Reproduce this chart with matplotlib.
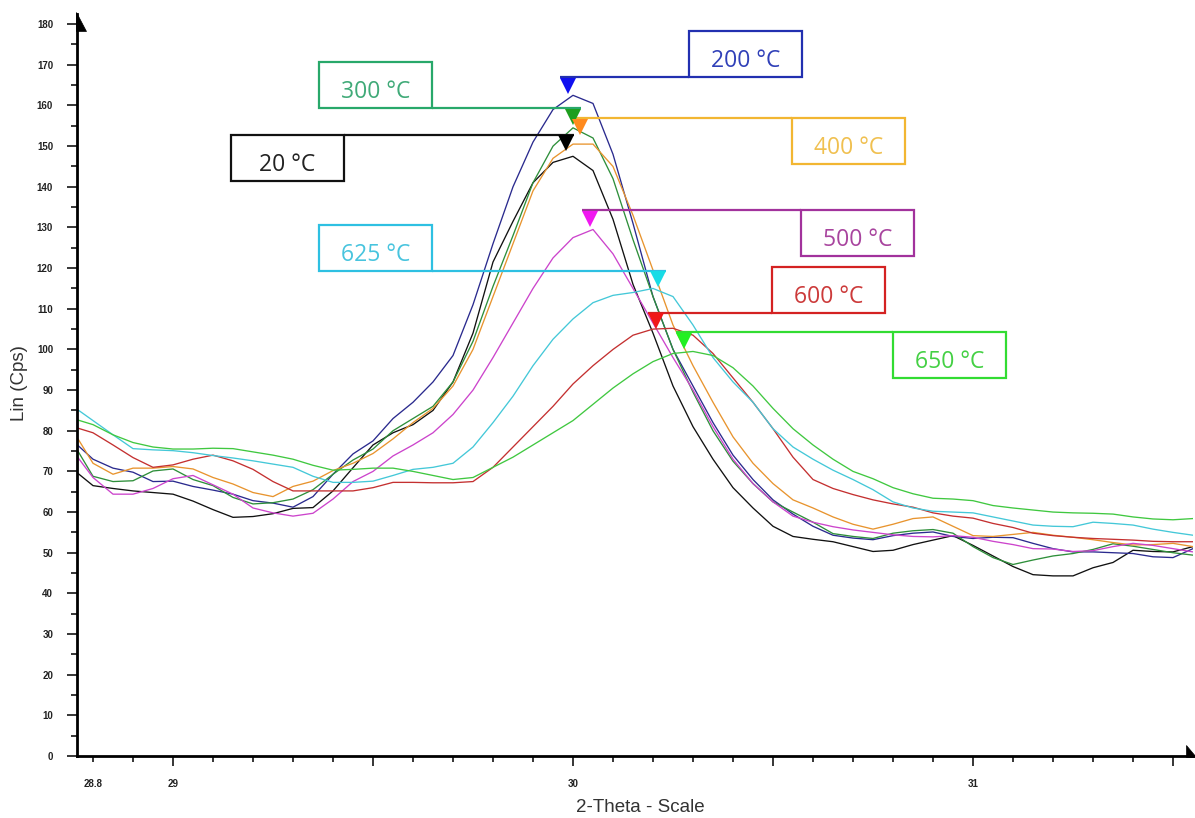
import numpy as np
import matplotlib
matplotlib.use("Agg")
import matplotlib.pyplot as plt
from matplotlib.patches import Rectangle, Polygon
from matplotlib.ticker import MultipleLocator, FixedLocator, FuncFormatter
from matplotlib.transforms import Affine2D, ScaledTranslation

# ---------------------------------------------------------------------------
# Scan data: 2-theta step scan (deg) and intensity (counts per second)
# ---------------------------------------------------------------------------
two_theta = np.round(np.arange(28.75, 31.5501, 0.05), 2)

cps_20 = [70.5, 66.5, 65.8, 65.2, 64.8, 64.4, 62.7, 60.6, 58.7, 58.9, 59.6, 60.9, 61.1, 65.2, 70.9, 76.5, 79.5,
          81.5, 85.0, 92.0, 104.0, 121.5, 131.5, 141.0, 146.0, 147.5, 144.0, 132.0, 116.0, 104.0, 91.0, 81.0, 73.0,
          66.0, 61.0, 56.5, 54.0,
          53.3, 52.7, 51.5, 50.3, 50.6, 52.0, 53.1, 54.2, 51.8, 49.2, 46.6, 44.6, 44.3, 44.3, 46.3, 47.6, 50.6, 50.3,
          50.2, 51.5]
cps_200 = [77.5, 73.0, 70.8, 69.8, 67.5, 67.6, 66.3, 65.4, 64.4, 62.8, 62.2, 61.2, 63.8, 69.3, 74.3, 77.5, 83.0,
           87.0, 92.0, 98.5, 111.0, 126.0, 140.0, 151.0, 159.0, 162.5, 160.5, 148.0, 131.0, 113.0, 100.0, 91.0, 82.0,
           74.0, 68.0, 63.0, 59.5,
           56.5, 54.3, 53.6, 53.2, 54.2, 54.8, 55.1, 54.0, 53.5, 53.8, 53.7, 52.3, 51.0, 50.2, 50.2, 50.0, 49.8, 49.0,
           48.8, 51.0]
cps_300 = [77.0, 68.8, 67.5, 67.7, 70.1, 70.6, 68.0, 66.5, 63.6, 62.0, 62.3, 63.2, 65.5, 69.3, 72.8, 75.5, 80.0,
           83.0, 86.0, 92.0, 102.0, 115.5, 128.0, 141.0, 150.0, 154.5, 152.0, 142.0, 127.0, 113.0, 100.0, 89.5, 80.0,
           72.5, 67.0, 62.5, 60.0,
           57.5, 54.7, 54.0, 53.5, 54.8, 55.4, 55.7, 54.8, 51.5, 48.8, 47.1, 48.2, 49.2, 49.8, 50.8, 52.2, 51.6, 50.8,
           50.0, 49.4]
cps_400 = [80.0, 72.0, 69.3, 70.8, 70.8, 71.2, 70.6, 68.5, 66.9, 64.8, 63.8, 66.3, 67.6, 70.2, 72.0, 74.4, 78.0,
           82.0, 85.5, 91.0, 100.0, 113.0, 126.0, 139.0, 147.0, 150.5, 150.5, 145.0, 133.0, 119.5, 106.0, 96.0, 87.0,
           78.5, 72.0, 67.0, 63.0,
           61.0, 58.8, 57.0, 55.8, 57.0, 58.4, 58.8, 56.5, 54.2, 54.0, 54.5, 55.0, 54.3, 53.8, 53.2, 52.5, 51.9, 52.0,
           52.3, 51.5]
cps_500 = [75.0, 68.5, 64.4, 64.4, 65.8, 68.2, 69.0, 66.7, 64.4, 61.0, 59.8, 59.0, 59.7, 63.2, 67.5, 70.0, 73.8,
           76.5, 79.5, 84.0, 90.0, 98.0, 106.5, 115.0, 122.5, 127.5, 129.5, 123.5, 115.0, 106.5, 98.0, 90.0, 81.0,
           73.0, 67.0, 62.5, 59.0,
           57.5, 56.4, 55.6, 55.0, 54.4, 54.0, 53.9, 54.2, 53.8, 52.8, 52.0, 51.0, 50.9, 50.3, 50.5, 51.5, 52.3, 51.8,
           51.0, 50.2]
cps_600 = [81.0, 79.5, 76.5, 73.4, 71.0, 71.6, 73.0, 74.0, 72.6, 70.5, 67.5, 65.2, 65.2, 65.2, 65.2, 66.0, 67.3,
           67.3, 67.2, 67.2, 67.5, 71.0, 76.0, 81.0, 86.0, 91.5, 96.0, 100.0, 103.5, 105.0, 105.2, 103.5, 99.0,
           93.0, 87.0, 80.5, 73.5,
           68.0, 65.8, 64.3, 63.0, 62.0, 61.2, 59.8, 59.0, 58.5, 57.2, 56.2, 54.8, 54.2, 53.8, 53.5, 53.3, 53.1, 52.8,
           52.7, 52.7]
cps_625 = [86.0, 82.5, 79.0, 75.6, 75.3, 75.1, 74.6, 73.9, 73.3, 72.6, 71.8, 71.0, 68.8, 67.3, 67.3, 67.6, 69.0,
           70.5, 71.0, 72.0, 76.0, 82.0, 88.5, 96.0, 102.5, 107.5, 111.5, 113.3, 114.0, 115.0, 113.0, 106.0, 98.0,
           92.0, 87.0, 80.5, 76.0,
           73.0, 70.3, 68.0, 65.5, 62.5, 61.0, 60.2, 60.0, 59.8, 58.8, 57.8, 56.8, 56.5, 56.4, 57.5, 57.2, 56.8, 55.8,
           55.0, 54.3]
cps_650 = [83.0, 81.5, 79.0, 77.1, 76.0, 75.5, 75.5, 75.7, 75.6, 74.8, 74.0, 73.0, 71.5, 70.3, 70.5, 70.8, 70.8,
           70.0, 69.0, 68.0, 68.5, 71.0, 73.5, 76.5, 79.5, 82.5, 86.5, 90.5, 94.0, 97.0, 99.0, 99.5, 98.5,
           95.5, 91.0, 85.5, 80.5,
           76.5, 73.0, 70.0, 68.2, 66.0, 64.5, 63.4, 63.2, 62.8, 61.6, 61.0, 60.5, 60.0, 59.8, 59.7, 59.5, 58.8, 58.3,
           58.1, 58.4]

series_labels = ["20 °C", "200 °C", "300 °C", "400 °C", "500 °C", "600 °C", "625 °C", "650 °C"]
series_cps = [cps_20, cps_200, cps_300, cps_400, cps_500, cps_600, cps_625, cps_650]
# reflection position marked for each temperature (deg 2-theta)
peak_two_theta = [29.9825, 29.9875, 30.0, 30.0175, 30.0425, 30.2075, 30.2125, 30.2775]

# ---------------------------------------------------------------------------
# Styling
# ---------------------------------------------------------------------------
curve_colors = ["#111111", "#2a2a8e", "#2e8f3a", "#e8942e", "#cc44cc", "#c43030", "#44c8d8", "#40c840"]
line_colors = ["#111111", "#2230b0", "#28a86a", "#f2b632", "#a2329c", "#d42222", "#2ec0e2", "#32dc32"]
text_colors = ["#222222", "#3040b8", "#40aa78", "#f0c050", "#a8449e", "#cc3a3a", "#48c4de", "#44d044"]
marker_colors = ["#000000", "#1010f0", "#1e9e1e", "#ff8a1e", "#f018f0", "#f01818", "#18dce6", "#22f022"]

# label box placement (left edge in deg, bottom edge in cps) and which edge
# carries the leader line
box_left = [29.145, 30.29, 29.365, 30.5475, 30.57, 30.4975, 29.365, 30.80]
box_bottom = [141.4, 166.95, 159.33, 145.56, 122.94, 108.93, 119.25, 92.94]
leader_edge = ["top", "bottom", "bottom", "top", "top", "bottom", "bottom", "top"]
BOX_W, BOX_H = 0.2825, 11.3
MARKER_SIZE = 12.0
MARKER_HALF_W = 0.021

plt.rcParams["font.family"] = ["Liberation Sans", "DejaVu Sans"]

W, H = 1195, 818
fig = plt.figure(figsize=(W / 100, H / 100), dpi=100)
fig.patch.set_facecolor("white")
ax = fig.add_axes([77 / W, 62 / H, 1116 / W, 742 / H])
ax.set_xlim(28.76, 31.55)
ax.set_ylim(0, 182.5)

# pixel-space transform (origin top-left) for frame decorations
px = Affine2D().scale(1 / W, -1 / H).translate(0, 1) + fig.transFigure

for cps, col in zip(series_cps, curve_colors):
    ax.plot(two_theta, cps, color=col, lw=0.95, zorder=2)

marker_shift = ScaledTranslation(0, -MARKER_SIZE / 2 / 72, fig.dpi_scale_trans)
text_shift = ScaledTranslation(0, -12.5 / 100, fig.dpi_scale_trans)

for i, label in enumerate(series_labels):
    x0, y0 = box_left[i], box_bottom[i]
    y_line = y0 + BOX_H if leader_edge[i] == "top" else y0
    xp = peak_two_theta[i]
    ax.add_patch(Rectangle((x0, y0), BOX_W, BOX_H, facecolor="white",
                           edgecolor=line_colors[i], lw=1.6, zorder=3))
    if x0 + BOX_W < xp:
        xs = [x0 + BOX_W, xp + MARKER_HALF_W]
    else:
        xs = [xp - MARKER_HALF_W, x0]
    ax.plot(xs, [y_line, y_line], color=line_colors[i], lw=1.6,
            solid_capstyle="butt", zorder=3)
    ax.plot([xp], [y_line], marker="v", ms=MARKER_SIZE, mew=0,
            color=marker_colors[i], transform=ax.transData + marker_shift, zorder=4)
    ax.text(x0 + BOX_W / 2, y0 + BOX_H / 2, label, ha="center", va="baseline",
            fontsize=16.5, family=["Open Sans", "DejaVu Sans"], color=text_colors[i],
            transform=ax.transData + text_shift, zorder=5)

# axes frame
for side in ("top", "right"):
    ax.spines[side].set_visible(False)
for side in ("left", "bottom"):
    ax.spines[side].set_linewidth(2.0)
    ax.spines[side].set_color("black")

ax.yaxis.set_major_locator(MultipleLocator(10))
ax.yaxis.set_minor_locator(MultipleLocator(5))
ax.xaxis.set_major_locator(FixedLocator([29.0, 29.5, 30.0, 30.5, 31.0, 31.5]))
ax.xaxis.set_minor_locator(MultipleLocator(0.1))
ax.xaxis.set_major_formatter(FuncFormatter(lambda v, p: f"{v:.0f}" if abs(v - round(v)) < 1e-6 else ""))
ax.xaxis.set_minor_formatter(FuncFormatter(lambda v, p: "28.8" if abs(v - 28.8) < 1e-6 else ""))

ax.tick_params(axis="both", which="major", length=7.2, width=1.1, color="black",
               labelsize=7, labelcolor="#222222")
ax.tick_params(axis="both", which="minor", length=4.3, width=1.1, color="black",
               labelsize=7, labelcolor="#222222")
ax.tick_params(axis="y", which="major", pad=10)
ax.tick_params(axis="x", which="major", pad=9.5)
ax.tick_params(axis="x", which="minor", pad=12.4)
for t in ax.get_yticklabels() + ax.get_xticklabels() + ax.get_xticklabels(minor=True):
    t.set_fontweight("bold")

# arrow heads at the ends of both axes
fig.patches.append(Polygon([(76, 12), (76, 31), (86, 31)], closed=True,
                           facecolor="black", edgecolor="black", lw=0.5, transform=px))
fig.patches.append(Polygon([(1186, 745), (1186, 757), (1196, 757)], closed=True,
                           facecolor="black", edgecolor="black", lw=0.5, transform=px))

fig.text(20, 383, "Lin (Cps)", rotation=90, ha="center", va="center",
         fontsize=13.5, color="#333333", transform=px)
fig.text(640, 808, "2-Theta - Scale", ha="center", va="center",
         fontsize=13.5, color="#333333", transform=px)

fig.savefig("out.png", dpi=100, facecolor="white")
